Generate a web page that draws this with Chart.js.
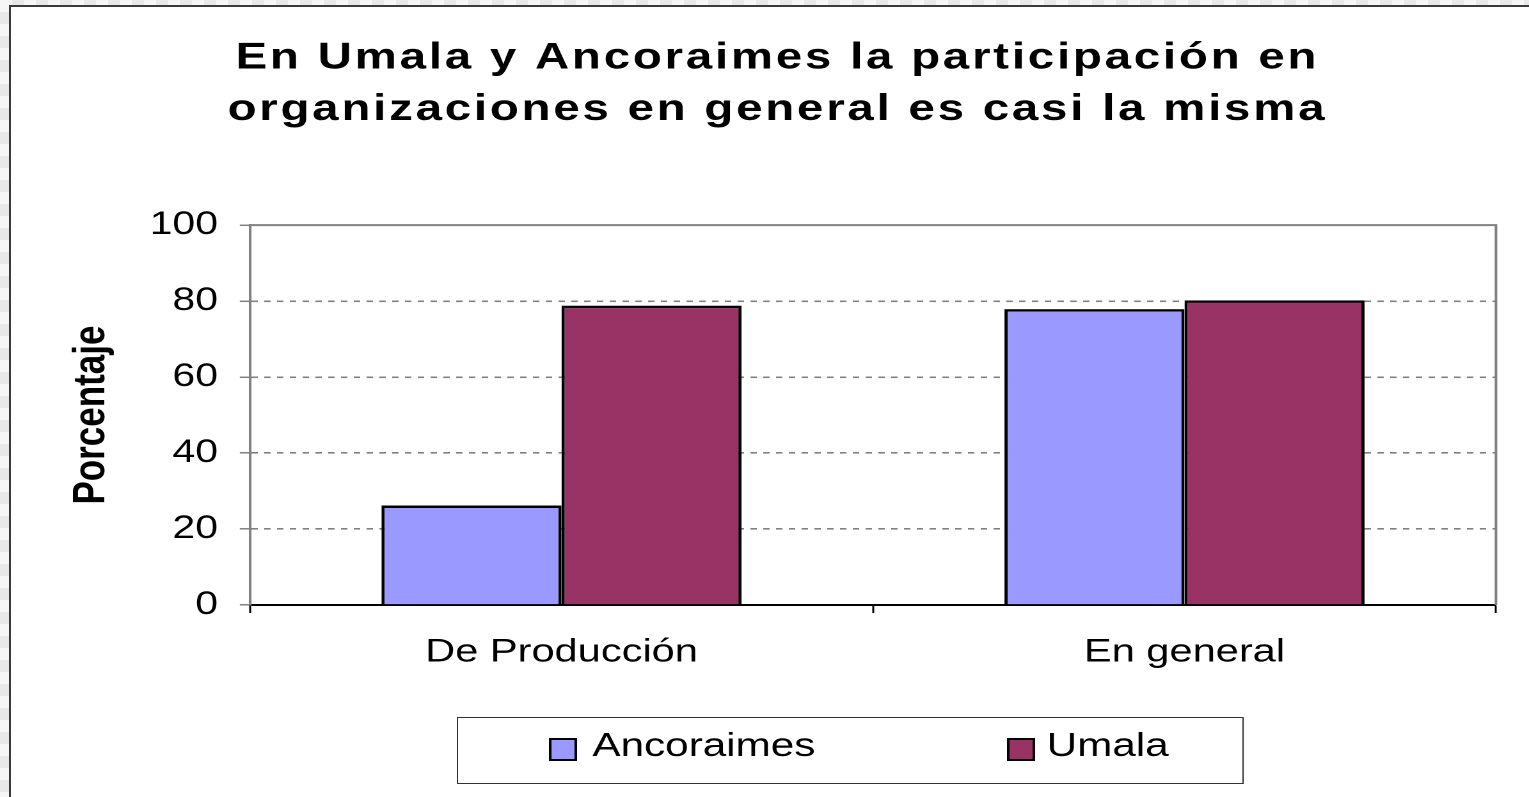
<!DOCTYPE html>
<html><head><meta charset="utf-8">
<script src="https://cdn.jsdelivr.net/npm/chart.js@4.4.1/dist/chart.umd.min.js"></script>
<style>
html,body{margin:0;padding:0;width:1529px;height:797px;overflow:hidden;background:#fff;}
.strip{position:fixed;background-color:#f2f2f2;background-image:conic-gradient(#e8e8e8 25%, #f6f6f6 0 50%, #e8e8e8 0 75%, #f6f6f6 0);background-size:24px 24px;}
#stripTop{left:0;top:0;width:1529px;height:5px;}
#stripLeft{left:0;top:0;width:9px;height:797px;}
#frameTop{position:fixed;left:9px;top:5px;width:1520px;height:2px;background:#3a3a3a;}
#frameLeft{position:fixed;left:9px;top:5px;width:2px;height:792px;background:#3a3a3a;}
#c{position:fixed;left:0;top:0;}
</style></head><body>
<div class="strip" id="stripTop"></div><div class="strip" id="stripLeft"></div>
<div id="frameTop"></div><div id="frameLeft"></div>
<canvas id="c" width="1195" height="797" style="width:1529px;height:797px"></canvas>
<script>
const titleLines = ['En Umala y Ancoraimes la participación en', 'organizaciones en general es casi la misma'];
const categories = ['De Producción', 'En general'];
const seriesNames = ['Ancoraimes', 'Umala'];
const ancoraimesValues = [26.2, 77.9];
const umalaValues = [78.8, 80.2];
const yTickValues = [0, 20, 40, 60, 80, 100];
const yAxisTitle = 'Porcentaje';
const seriesColors = ['#9999FF', '#993366'];

const FONT = '"Liberation Sans", Arial, sans-serif';

const decor = {
  id: 'decor',
  afterInit(chart) {
    const tb = chart.titleBlock;
    if (tb) {
      const orig = tb.draw;
      tb.draw = function (...a) {
        const c = this.ctx; c.save(); c.letterSpacing = '2.2px'; c.translate(3, 0); orig.apply(this, a); c.restore();
      };
    }
  },
  afterDatasetsDraw(chart) {
    const ctx = chart.ctx; const {left, top, right, bottom} = chart.chartArea;
    ctx.save();
    ctx.strokeStyle = '#808080'; ctx.lineWidth = 2;
    ctx.beginPath(); ctx.moveTo(left, top); ctx.lineTo(right, top); ctx.lineTo(right, bottom); ctx.stroke();
    ctx.restore();
  },
  afterDraw(chart) {
    const ctx = chart.ctx;
    ctx.save();
    ctx.fillStyle = '#fff'; ctx.fillRect(357, 717, 614, 66);
    ctx.strokeStyle = '#333'; ctx.lineWidth = 1; ctx.strokeRect(357.5, 717.5, 614, 66);
    const xs = [430, 788];
    const tx = [33, 30];
    chart.data.datasets.forEach((ds, i) => {
      ctx.fillStyle = ds.backgroundColor; ctx.fillRect(xs[i], 739, 20, 21);
      ctx.lineWidth = 2; ctx.strokeStyle = '#000'; ctx.strokeRect(xs[i], 739, 20, 21);
      ctx.fillStyle = '#000'; ctx.font = '33px ' + FONT; ctx.textBaseline = 'middle'; ctx.textAlign = 'left';
      ctx.fillText(ds.label, xs[i] + tx[i], 747);
    });
    ctx.restore();
  }
};

new Chart(document.getElementById('c'), {
  type: 'bar',
  data: {
    labels: categories,
    datasets: [
      {label: seriesNames[0], data: ancoraimesValues, backgroundColor: seriesColors[0], borderColor: '#000', borderWidth: 2.5, barPercentage: 1, categoryPercentage: 0.578},
      {label: seriesNames[1], data: umalaValues, backgroundColor: seriesColors[1], borderColor: '#000', borderWidth: 2.5, barPercentage: 1, categoryPercentage: 0.578}
    ]
  },
  options: {
    responsive: false, animation: false, devicePixelRatio: 2,
    layout: {padding: {left: 40, right: 25.8, top: 0, bottom: 122}},
    plugins: {
      legend: {display: false}, tooltip: {enabled: false},
      title: {display: true, text: titleLines, color: '#000', font: {family: FONT, size: 37, weight: 'bold', lineHeight: 1.38}, padding: {top: 33, bottom: 90}}
    },
    scales: {
      x: {
        grid: {display: true, drawOnChartArea: false, drawTicks: true, tickLength: 8, tickColor: '#000', tickWidth: 1.5, offset: true},
        border: {display: true, color: '#000', width: 2},
        ticks: {color: '#000', font: {family: FONT, size: 32.5}, padding: 20, maxRotation: 0},
        afterFit(s) { s.height = 70; }
      },
      y: {
        min: 0, max: 100,
        afterBuildTicks(s) { s.ticks = yTickValues.map(v => ({value: v})); },
        grid: {color: (c) => (c.tick && (c.tick.value === 0 || c.tick.value === 100)) ? 'rgba(0,0,0,0)' : '#808080', lineWidth: 1.6, tickColor: '#808080', tickLength: 8, tickWidth: 1.5, tickBorderDash: []},
        border: {display: true, color: '#808080', width: 2, dash: [5, 5]},
        ticks: {color: '#000', font: {family: FONT, size: 32}, padding: 17},
        title: {display: true, text: yAxisTitle, color: '#000', font: {family: FONT, size: 35, weight: 'bold'}, padding: {top: 11, bottom: 0}},
        afterFit(s) { s.width = 155.4; }
      }
    }
  },
  plugins: [decor]
});
</script></body></html>
